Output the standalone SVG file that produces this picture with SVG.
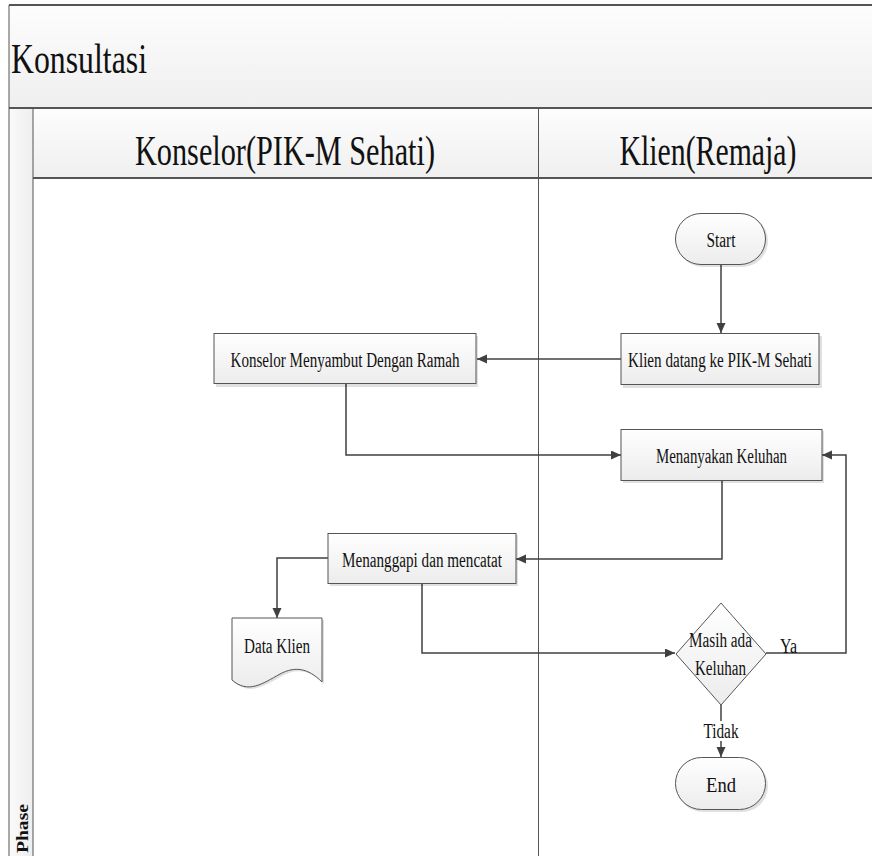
<svg xmlns="http://www.w3.org/2000/svg" width="872" height="856" viewBox="0 0 872 856">
  <style>
    text { font-family: "Liberation Serif", "DejaVu Serif", serif; fill: #111; }
    .box { fill: url(#boxFill); stroke: #555; stroke-width: 1; }
    .shadow { fill: #000; opacity: 0.12; }
    .conn { fill: none; stroke: #404040; stroke-width: 1.5; }
    .frame { stroke: #555; stroke-width: 2; fill: none; }
    .thin { stroke: #555; stroke-width: 1; fill: none; }
  </style>
  <defs>
    <linearGradient id="boxFill" x1="0" y1="0" x2="0" y2="1">
      <stop offset="0" stop-color="#ffffff"/>
      <stop offset="1" stop-color="#ececec"/>
    </linearGradient>
    <linearGradient id="barFill" x1="0" y1="0" x2="0" y2="1">
      <stop offset="0" stop-color="#fdfdfd"/>
      <stop offset="1" stop-color="#efefef"/>
    </linearGradient>
    <linearGradient id="sideFill" x1="0" y1="0" x2="1" y2="0">
      <stop offset="0" stop-color="#fafafa"/>
      <stop offset="1" stop-color="#eeeeee"/>
    </linearGradient>
    <marker id="arrow" markerUnits="userSpaceOnUse" markerWidth="11" markerHeight="10" refX="10" refY="4.5" orient="auto">
      <path d="M0,0 L10,4.5 L0,9 Z" fill="#404040"/>
    </marker>
  </defs>

  <rect width="872" height="856" fill="#ffffff"/>

  <!-- swimlane frame -->
  <g id="pool">
    <rect x="9" y="5" width="863" height="103" fill="url(#barFill)"/>
    <rect x="33" y="108" width="839" height="70" fill="url(#barFill)"/>
    <rect x="9" y="108" width="24" height="748" fill="url(#sideFill)"/>
    <line class="frame" x1="9" y1="5" x2="872" y2="5"/>
    <line class="frame" x1="9" y1="108" x2="872" y2="108"/>
    <line class="frame" x1="33" y1="178" x2="872" y2="178"/>
    <line class="thin" x1="9" y1="5" x2="9" y2="856"/>
    <line class="thin" x1="33" y1="108" x2="33" y2="856"/>
    <line class="thin" x1="538.5" y1="108" x2="538.5" y2="856"/>
    <text x="11" y="73" font-size="42" textLength="136" lengthAdjust="spacingAndGlyphs">Konsultasi</text>
    <text x="285" y="165" font-size="42" text-anchor="middle" textLength="300" lengthAdjust="spacingAndGlyphs">Konselor(PIK-M Sehati)</text>
    <text x="708" y="165" font-size="42" text-anchor="middle" textLength="177" lengthAdjust="spacingAndGlyphs">Klien(Remaja)</text>
    <text transform="translate(28,853) rotate(-90)" font-size="16" font-weight="bold" textLength="49" lengthAdjust="spacingAndGlyphs">Phase</text>
  </g>

  <!-- connectors -->
  <g id="connectors">
    <path class="conn" d="M721,265 V333" marker-end="url(#arrow)"/>
    <path class="conn" d="M621,359 H477" marker-end="url(#arrow)"/>
    <path class="conn" d="M346,384 V455 H621" marker-end="url(#arrow)"/>
    <path class="conn" d="M722,481 V559 H516" marker-end="url(#arrow)"/>
    <path class="conn" d="M328,558 H277 V618" marker-end="url(#arrow)"/>
    <path class="conn" d="M422,584 V653 H675" marker-end="url(#arrow)"/>
    <path class="conn" d="M766,653 H846 V455 H822" marker-end="url(#arrow)"/>
    <path class="conn" d="M721,705 V757" marker-end="url(#arrow)"/>
    <rect x="700" y="721" width="42" height="20" fill="#ffffff"/>
    <text x="721" y="738" font-size="20" text-anchor="middle" textLength="35" lengthAdjust="spacingAndGlyphs">Tidak</text>
    <text x="780" y="653" font-size="20" textLength="17" lengthAdjust="spacingAndGlyphs">Ya</text>
  </g>

  <g id="start">
    <rect class="shadow" x="677" y="215" width="91" height="52" rx="26"/>
    <rect class="box" x="675.5" y="213.5" width="90" height="51" rx="25.5"/>
    <text x="721" y="247" font-size="20" text-anchor="middle" textLength="29" lengthAdjust="spacingAndGlyphs">Start</text>
  </g>

  <g id="klien-datang">
    <rect class="shadow" x="623" y="336" width="199" height="52"/>
    <rect class="box" x="621" y="333.5" width="198" height="51"/>
    <text x="720" y="367" font-size="20" text-anchor="middle" textLength="184" lengthAdjust="spacingAndGlyphs">Klien datang ke PIK-M Sehati</text>
  </g>

  <g id="konselor-menyambut">
    <rect class="shadow" x="216" y="336" width="262" height="51"/>
    <rect class="box" x="214" y="333.5" width="262" height="50"/>
    <text x="345" y="367" font-size="20" text-anchor="middle" textLength="229" lengthAdjust="spacingAndGlyphs">Konselor Menyambut Dengan Ramah</text>
  </g>

  <g id="menanyakan-keluhan">
    <rect class="shadow" x="623" y="431" width="201" height="52"/>
    <rect class="box" x="621" y="429.5" width="201" height="51"/>
    <text x="721.5" y="463" font-size="20" text-anchor="middle" textLength="131" lengthAdjust="spacingAndGlyphs">Menanyakan Keluhan</text>
  </g>

  <g id="menanggapi">
    <rect class="shadow" x="330" y="535" width="188" height="51"/>
    <rect class="box" x="328" y="533.5" width="188" height="50"/>
    <text x="422" y="567" font-size="20" text-anchor="middle" textLength="160" lengthAdjust="spacingAndGlyphs">Menanggapi dan mencatat</text>
  </g>

  <g id="data-klien">
    <path class="shadow" d="M234,620 H324 V684 C310,670 297,668 282,676 C264,686 250,696 234,682 Z"/>
    <path class="box" d="M232,618 H322 V682 C308,668 295,666 280,674 C262,684 248,694 232,680 Z"/>
    <text x="277" y="653" font-size="20" text-anchor="middle" textLength="66" lengthAdjust="spacingAndGlyphs">Data Klien</text>
  </g>

  <g id="decision">
    <path class="box" d="M721,603 L766,654 L721,705 L676,654 Z"/>
    <text x="720.5" y="647" font-size="20" text-anchor="middle" textLength="63" lengthAdjust="spacingAndGlyphs">Masih ada</text>
    <text x="720.5" y="675" font-size="20" text-anchor="middle" textLength="51" lengthAdjust="spacingAndGlyphs">Keluhan</text>
  </g>

  <g id="end">
    <rect class="shadow" x="677" y="760" width="91" height="52" rx="26"/>
    <rect class="box" x="675.5" y="757.5" width="90" height="52" rx="26"/>
    <text x="721" y="792" font-size="20" text-anchor="middle" textLength="30" lengthAdjust="spacingAndGlyphs">End</text>
  </g>
</svg>
